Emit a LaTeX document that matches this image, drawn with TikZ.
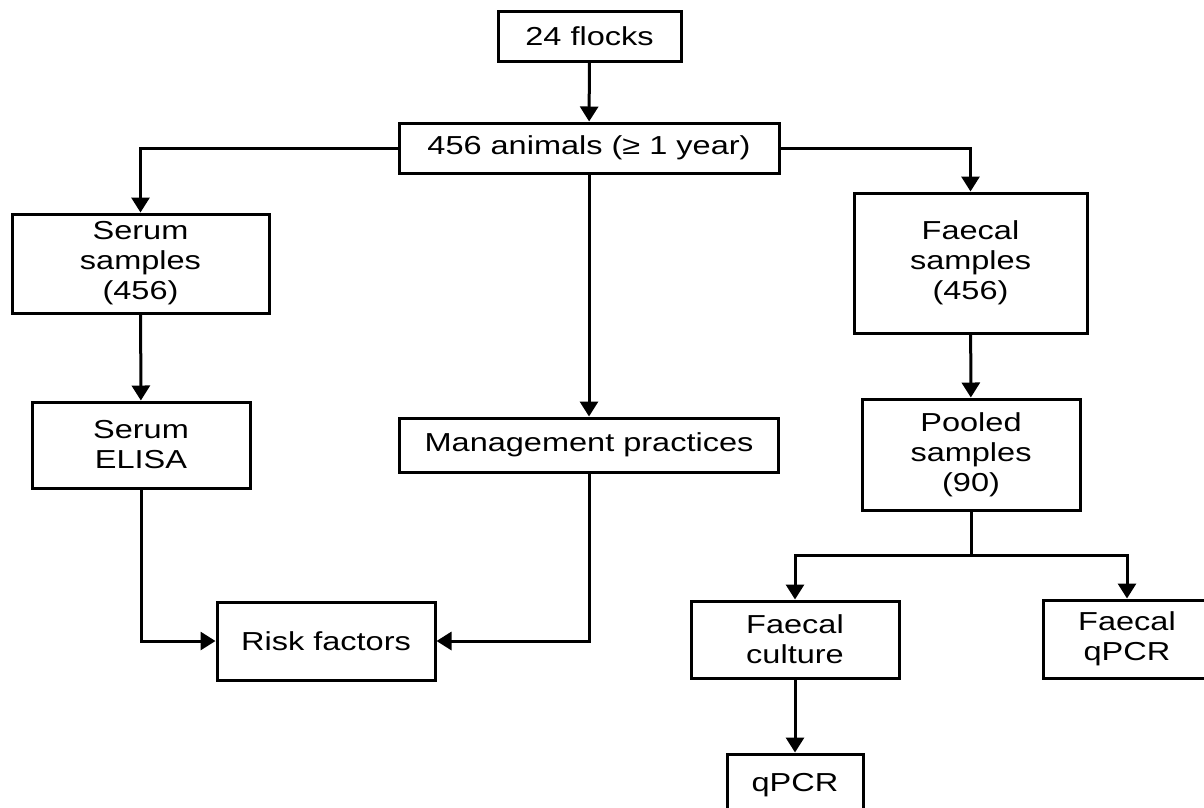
\documentclass[tikz,border=0pt]{standalone}
\usepackage{fontspec}
\setmainfont{Liberation Sans}[FakeStretch=1.25]
\usetikzlibrary{arrows.meta}
\tikzset{
  box/.style={draw, line width=3pt, inner sep=0pt, align=center,
    font=\fontsize{26}{30}\selectfont},
  conn/.style={line width=3pt},
  arr/.style={conn, -{Triangle[length=15pt,width=18pt]}}
}
\begin{document}
\begin{tikzpicture}[x=1pt,y=-1pt]
\useasboundingbox (0,0) rectangle (1204,807);
\clip (0,0) rectangle (1204,807);
\fill[white] (0,0) rectangle (1204,807);
\node[box, minimum width=183pt, minimum height=50pt] (flocks) at (589.5,36) {24 flocks};
\node[box, minimum width=380pt, minimum height=50pt] (animals) at (589,148) {456 animals (≥ 1 year)};
\node[box, minimum width=257pt, minimum height=99pt] (serum) at (140.5,263.5) {Serum\\samples\\(456)};
\node[box, minimum width=233pt, minimum height=140pt] (faecal) at (970.5,263) {Faecal\\samples\\(456)};
\node[box, minimum width=218pt, minimum height=86pt] (elisa) at (141,445) {Serum\\ELISA};
\node[box, minimum width=379pt, minimum height=54pt] (mgmt) at (589,445) {Management practices};
\node[box, minimum width=218pt, minimum height=111pt] (pooled) at (971,454.5) {Pooled\\samples\\(90)};
\node[box, minimum width=218pt, minimum height=78pt] (risk) at (326,641) {Risk factors};
\node[box, minimum width=208pt, minimum height=77pt] (culture) at (795,639.5) {Faecal\\culture};
\node[box, minimum width=168pt, minimum height=78pt] (fqpcr) at (1127,639) {Faecal\\qPCR};
\node[box, minimum width=136pt, minimum height=62pt] (qpcr) at (795,785) {qPCR};
\coordinate (br) at (971,555);

\draw[arr] (flocks) -- (animals);
\draw[arr] (animals.west) -| (serum.north);
\draw[arr] (animals.east) -| (faecal.north);
\draw[arr] (animals) -- (mgmt);
\draw[arr] (serum) -- (elisa);
\draw[arr] (faecal) -- (pooled);
\draw[arr] (elisa.south) |- (risk.west);
\draw[arr] (mgmt.south) |- (risk.east);
\draw[conn] (pooled.south) -- (br);
\draw[arr] (br) -| (culture.north);
\draw[arr] (br) -| (fqpcr.north);
\draw[arr] (culture) -- (qpcr);
\end{tikzpicture}
\end{document}
